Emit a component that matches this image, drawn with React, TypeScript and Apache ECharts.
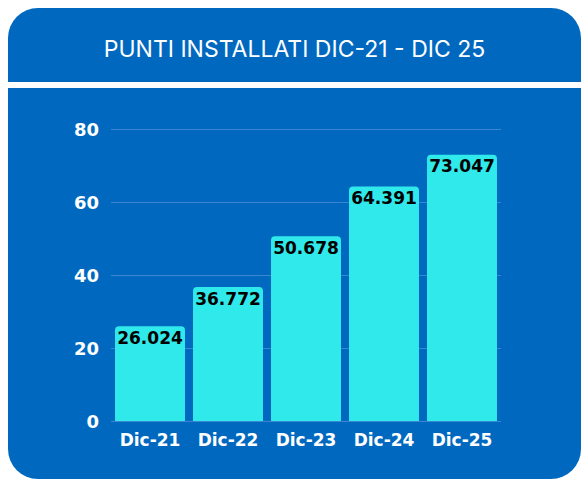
import React, { useEffect, useRef } from "react";
import * as echarts from "echarts";

const categories = ["Dic-21", "Dic-22", "Dic-23", "Dic-24", "Dic-25"];
const installed = [26024, 36772, 50678, 64391, 73047];
const yTicks = [0, 20, 40, 60, 80];

const BLUE = "#0069BF";
const CYAN = "#30E9EB";

function formatIt(v: number) {
  return String(v).replace(/\B(?=(\d{3})+(?!\d))/g, ".");
}

export default function App() {
  const ref = useRef<HTMLDivElement>(null);

  useEffect(() => {
    if (!ref.current) return;
    const chart = echarts.init(ref.current, null, { renderer: "svg" });
    chart.setOption({
      animation: false,
      backgroundColor: "transparent",
      title: {
        text: "PUNTI INSTALLATI DIC-21 - DIC 25",
        left: "center",
        top: 24,
        textStyle: {
          color: "#ffffff",
          fontFamily: "Inter",
          fontWeight: 400,
          fontSize: 23,
        },
      },
      graphic: [
        {
          type: "rect",
          left: 0,
          top: 74,
          shape: { width: 573, height: 6 },
          style: { fill: "#ffffff" },
        },
      ],
      grid: { left: 103, right: 80, top: 121.5, bottom: 58 },
      xAxis: {
        type: "category",
        data: categories,
        axisLine: { show: false },
        axisTick: { show: false },
        axisLabel: {
          interval: 0,
          color: "#ffffff",
          fontFamily: "DejaVu Sans",
          fontWeight: "bold",
          fontSize: 17,
          margin: 10,
        },
      },
      yAxis: {
        type: "value",
        min: 0,
        max: 80000,
        interval: 20000,
        axisLine: { show: false },
        axisTick: { show: false },
        splitLine: { lineStyle: { color: "#3B86D0", width: 1 } },
        axisLabel: {
          color: "#ffffff",
          fontFamily: "DejaVu Sans",
          fontWeight: "bold",
          fontSize: 18,
          margin: 12,
          formatter: (v: number) => String(yTicks[Math.round(v / 20000)] ?? v / 1000),
        },
      },
      series: [
        {
          type: "bar",
          data: installed,
          barCategoryGap: "10.3%",
          itemStyle: { color: CYAN, borderRadius: [4, 4, 0, 0] },
          label: {
            show: true,
            position: "insideTop",
            distance: 3,
            color: "#000000",
            fontFamily: "DejaVu Sans",
            fontWeight: "bold",
            fontSize: 17,
            formatter: (p: any) => formatIt(p.value),
          },
        },
      ],
    });
    return () => chart.dispose();
  }, []);

  return (
    <div
      style={{
        position: "absolute",
        left: 8,
        top: 8,
        width: 573,
        height: 471,
        background: BLUE,
        borderRadius: 30,
        overflow: "hidden",
      }}
    >
      <div ref={ref} style={{ width: 573, height: 471 }} />
    </div>
  );
}
